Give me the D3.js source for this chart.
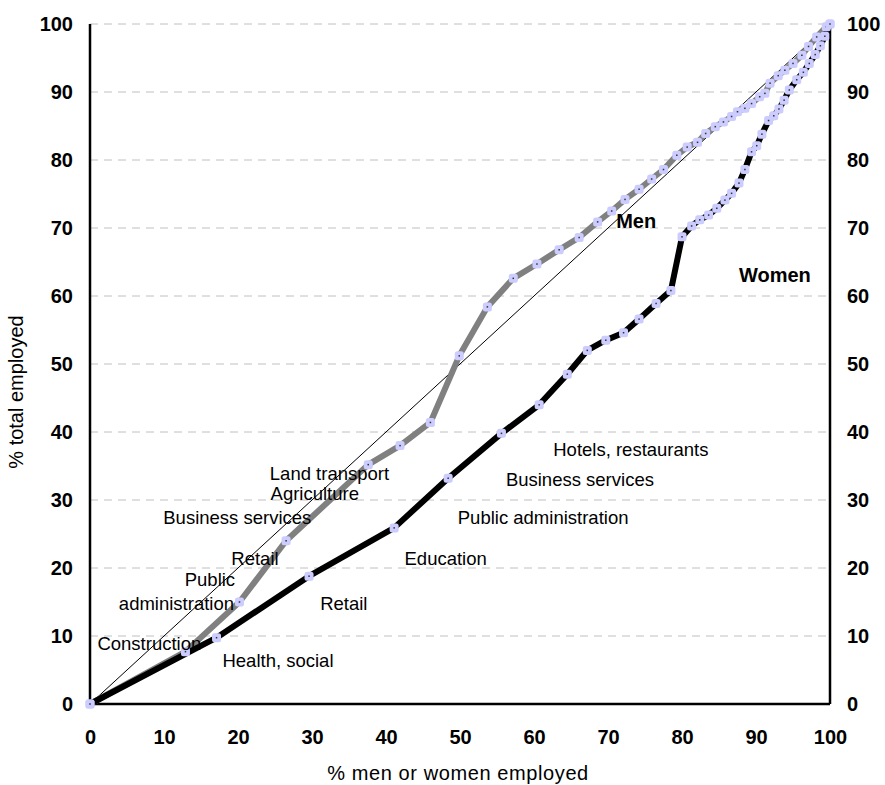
<!DOCTYPE html>
<html>
<head>
<meta charset="utf-8">
<script src="https://cdn.jsdelivr.net/npm/d3@7"></script>
<style>
  body { margin: 0; background: #fff; }
  svg { font-family: Arial, "Liberation Sans", sans-serif; }
</style>
</head>
<body>
<div id="chart"></div>
<script>
// cumulative employment curves, % of men / women employed vs % total employed
var menX = [0, 12.9, 20.2, 26.5, 37.6, 41.9, 46.0, 49.9, 53.7, 57.2, 60.4, 63.4, 66.1, 68.6,
  70.5, 72.3, 74.2, 75.9, 77.5, 79.3, 80.7, 82.1, 83.2, 84.5, 85.6, 86.7, 87.5, 88.5, 89.4,
  90.5, 91.2, 91.9, 93.0, 93.9, 95.0, 96.2, 97.1, 98.2, 99.5, 100];
var menY = [0, 7.7, 15.0, 24.0, 35.2, 38.0, 41.4, 51.2, 58.4, 62.6, 64.7, 66.8, 68.6, 70.9,
  72.5, 74.2, 75.7, 77.2, 78.6, 80.7, 81.9, 82.6, 83.9, 84.9, 85.6, 86.4, 87.1, 87.6, 88.3,
  89.3, 89.8, 91.3, 92.4, 93.2, 94.2, 95.4, 96.7, 98.1, 99.6, 100];

var womenX = [0, 17.1, 29.6, 41.1, 48.4, 55.6, 60.7, 64.5, 67.2, 69.7, 72.1, 74.2, 76.5, 78.5,
  80.0, 81.3, 82.4, 83.6, 84.7, 85.8, 86.7, 87.7, 88.5, 89.4, 90.1, 90.8, 91.7, 92.4, 93.1,
  93.8, 94.5, 95.5, 96.4, 97.2, 98.0, 98.7, 99.3, 100];
var womenY = [0, 9.75, 18.8, 25.9, 33.2, 39.8, 44.0, 48.5, 52.0, 53.5, 54.6, 56.6, 58.9, 60.8,
  68.7, 70.3, 71.2, 71.9, 72.9, 74.1, 75.1, 76.6, 78.6, 81.2, 82.1, 83.8, 85.8, 86.5, 87.5,
  88.8, 90.3, 91.8, 92.9, 94.2, 95.5, 96.8, 98.2, 100];

var tickValues = [0, 10, 20, 30, 40, 50, 60, 70, 80, 90, 100];

// sector labels (anchored in data units)
var noteText = ["Hotels, restaurants", "Business services", "Public administration", "Education",
  "Retail", "Health, social", "Construction", "administration", "Public", "Retail",
  "Business services", "Agriculture", "Land transport"];
var noteX = [62.6, 56.2, 49.7, 42.5, 31.1, 17.9, 1.0, 3.9, 12.8, 19.1, 9.9, 24.4, 24.3];
var noteY = [36.4, 32.1, 26.5, 20.5, 13.8, 5.5, 8.0, 13.8, 17.4, 20.5, 26.4, 30.0, 33.0];

var seriesText = ["Men", "Women"];
var seriesX = [71.1, 87.7];
var seriesY = [70.0, 62.1];

var margin = { top: 24, right: 55, bottom: 81, left: 90 },
    width = 885 - margin.left - margin.right,
    height = 785 - margin.top - margin.bottom;

var svg = d3.select("#chart")
  .append("svg")
  .attr("width", 885)
  .attr("height", 785)
  .append("g")
  .attr("transform", "translate(" + margin.left + "," + margin.top + ")");

var x = d3.scaleLinear().domain([0, 100]).range([0, width]);
var y = d3.scaleLinear().domain([0, 100]).range([height, 0]);

// gridlines
svg.selectAll(".grid")
  .data(tickValues.slice(1))
  .enter()
  .append("line")
  .attr("x1", 0)
  .attr("x2", width)
  .attr("y1", function(d) { return y(d); })
  .attr("y2", function(d) { return y(d); })
  .attr("stroke", "#c0c0c0")
  .attr("stroke-dasharray", "8,6");

// axes, labels only
function styleAxis(g) {
  g.select(".domain").remove();
  g.selectAll(".tick line").remove();
  g.selectAll("text")
    .attr("font-family", "Arial, 'Liberation Sans', sans-serif")
    .attr("font-size", 20)
    .attr("font-weight", "bold")
    .attr("fill", "#000");
}

svg.append("g")
  .attr("transform", "translate(0," + height + ")")
  .call(d3.axisBottom(x).tickValues(tickValues).tickSize(0).tickPadding(26))
  .call(styleAxis);

svg.append("g")
  .call(d3.axisLeft(y).tickValues(tickValues).tickSize(0).tickPadding(17))
  .call(styleAxis);

svg.append("g")
  .attr("transform", "translate(" + width + ",0)")
  .call(d3.axisRight(y).tickValues(tickValues).tickSize(0).tickPadding(17))
  .call(styleAxis);

// frame lines
svg.append("line").attr("x1", 0).attr("x2", 0).attr("y1", 0).attr("y2", height)
  .attr("stroke", "#000").attr("stroke-width", 2.5);
svg.append("line").attr("x1", width).attr("x2", width).attr("y1", 0).attr("y2", height)
  .attr("stroke", "#000").attr("stroke-width", 2.5);
svg.append("line").attr("x1", 0).attr("x2", width).attr("y1", height).attr("y2", height)
  .attr("stroke", "#000").attr("stroke-width", 2.5);

// equality diagonal
svg.append("line")
  .attr("x1", x(0)).attr("y1", y(0))
  .attr("x2", x(100)).attr("y2", y(100))
  .attr("stroke", "#000")
  .attr("stroke-width", 1);

var line = d3.line()
  .x(function(d) { return x(d[0]); })
  .y(function(d) { return y(d[1]); });

var menData = d3.zip(menX, menY);
var womenData = d3.zip(womenX, womenY);

svg.append("path")
  .datum(menData)
  .attr("d", line)
  .attr("fill", "none")
  .attr("stroke", "#808080")
  .attr("stroke-width", 6)
  .attr("stroke-linejoin", "round");

svg.append("path")
  .datum(womenData)
  .attr("d", line)
  .attr("fill", "none")
  .attr("stroke", "#000")
  .attr("stroke-width", 6)
  .attr("stroke-linejoin", "round");

// markers
function drawMarkers(data) {
  svg.append("g").selectAll("rect")
    .data(data)
    .enter()
    .append("rect")
    .attr("x", function(d) { return x(d[0]) - 4.5; })
    .attr("y", function(d) { return y(d[1]) - 4.5; })
    .attr("width", 9)
    .attr("height", 9)
    .attr("rx", 2.5)
    .attr("fill", "#ccccff");
  svg.append("g").selectAll("rect")
    .data(data)
    .enter()
    .append("rect")
    .attr("x", function(d) { return x(d[0]) - 0.75; })
    .attr("y", function(d) { return y(d[1]) - 0.75; })
    .attr("width", 1.5)
    .attr("height", 1.5)
    .attr("fill", "#333");
}
drawMarkers(menData);
drawMarkers(womenData);

// sector annotations
svg.selectAll(".note")
  .data(noteText)
  .enter()
  .append("text")
  .attr("class", "note")
  .attr("x", function(d, i) { return x(noteX[i]); })
  .attr("y", function(d, i) { return y(noteY[i]); })
  .attr("font-size", 18.5)
  .attr("fill", "#000")
  .text(function(d) { return d; });

svg.selectAll(".series")
  .data(seriesText)
  .enter()
  .append("text")
  .attr("class", "series")
  .attr("x", function(d, i) { return x(seriesX[i]); })
  .attr("y", function(d, i) { return y(seriesY[i]); })
  .attr("font-size", 20)
  .attr("font-weight", "bold")
  .attr("fill", "#000")
  .text(function(d) { return d; });

// axis titles
svg.append("text")
  .attr("x", width / 2 - 2)
  .attr("y", height + 76)
  .attr("text-anchor", "middle")
  .attr("font-size", 20)
  .attr("letter-spacing", 0.6)
  .text("% men or women employed");

svg.append("text")
  .attr("transform", "translate(" + (-67) + "," + (height / 2 + 28) + ") rotate(-90)")
  .attr("text-anchor", "middle")
  .attr("font-size", 20)
  .text("% total employed");
</script>
</body>
</html>
